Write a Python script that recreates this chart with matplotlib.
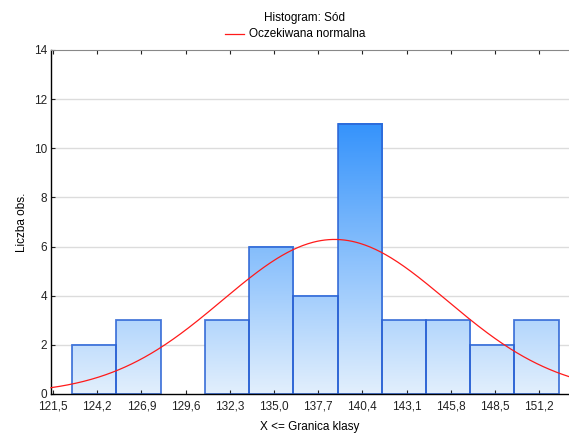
import numpy as np
import matplotlib
matplotlib.use("Agg")
import matplotlib.pyplot as plt
from matplotlib.colors import LinearSegmentedColormap, Normalize
from matplotlib.patches import Rectangle

plt.rcParams['font.family'] = ['Liberation Sans', 'DejaVu Sans']

# Data
bin_start = 122.68
bin_width = 2.7
counts = [2, 3, 0, 3, 6, 4, 11, 3, 3, 2, 3]
tick_values = [121.5, 124.2, 126.9, 129.6, 132.3, 135.0, 137.7, 140.4, 143.1, 145.8, 148.5, 151.2]
tick_labels = ["121,5", "124,2", "126,9", "129,6", "132,3", "135,0", "137,7",
               "140,4", "143,1", "145,8", "148,5", "151,2"]
normal_mean = 138.7
normal_sd = 6.85

fig = plt.figure(figsize=(5.69, 4.33), dpi=100)
ax = fig.add_axes([51/569, 39/433, 518/569, 344/433])
xmin, xmax = 121.38, 153.02
ax.set_xlim(xmin, xmax)
ax.set_ylim(0, 14)

# grid
for y in range(2, 14, 2):
    ax.axhline(y, color='#dcdcdc', lw=1.0, zorder=0)

cmap = LinearSegmentedColormap.from_list('g', ['#e2effd', '#3593fb'])
norm = Normalize(0, 11)
for i, c in enumerate(counts):
    if c == 0:
        continue
    x0 = bin_start + i * bin_width
    grad = np.linspace(c, 0, 200).reshape(-1, 1)
    ax.imshow(grad, extent=[x0, x0 + bin_width, 0, c], cmap=cmap, norm=norm,
              aspect='auto', zorder=1, interpolation='bilinear')
    ax.add_patch(Rectangle((x0, 0), bin_width, c, fill=False,
                           edgecolor='#2a62d4', lw=1.3, alpha=0.85, zorder=2))
ax.set_xlim(xmin, xmax)
ax.set_ylim(0, 14)

# normal curve
n = sum(counts)
xs = np.linspace(xmin, xmax, 400)
ys = n * bin_width * np.exp(-0.5 * ((xs - normal_mean) / normal_sd) ** 2) / (normal_sd * np.sqrt(2 * np.pi))
ax.plot(xs, ys, color='#ff1a1a', lw=0.9, zorder=3, clip_on=False)

ax.set_xticks(tick_values)
ax.set_xticklabels(tick_labels)
ax.set_yticks(range(0, 15, 2))
ax.tick_params(axis='both', direction='in', length=3, labelsize=8.5, colors='#222222',
               top=True, right=False, pad=3)
ax.tick_params(axis='x', pad=5)
for s in ['left', 'bottom']:
    ax.spines[s].set_color('black')
    ax.spines[s].set_linewidth(1.0)
ax.spines['top'].set_color('#888888')
ax.spines['right'].set_visible(False)

ax.set_ylabel('Liczba obs.', fontsize=8.5, labelpad=4)
ax.set_xlabel('X <= Granica klasy', fontsize=8.5, labelpad=6)

fig.text(305/569, 1 - 18/433, 'Histogram: Sód', fontsize=8.5, ha='center', va='center')
fig.lines.append(plt.Line2D([225/569, 244/569], [1 - 34/433, 1 - 34/433],
                            transform=fig.transFigure, color='#ff1a1a', lw=0.9))
fig.text(249/569, 1 - 34/433, 'Oczekiwana normalna', fontsize=8.5, ha='left', va='center')

fig.savefig('out.png', dpi=100)
